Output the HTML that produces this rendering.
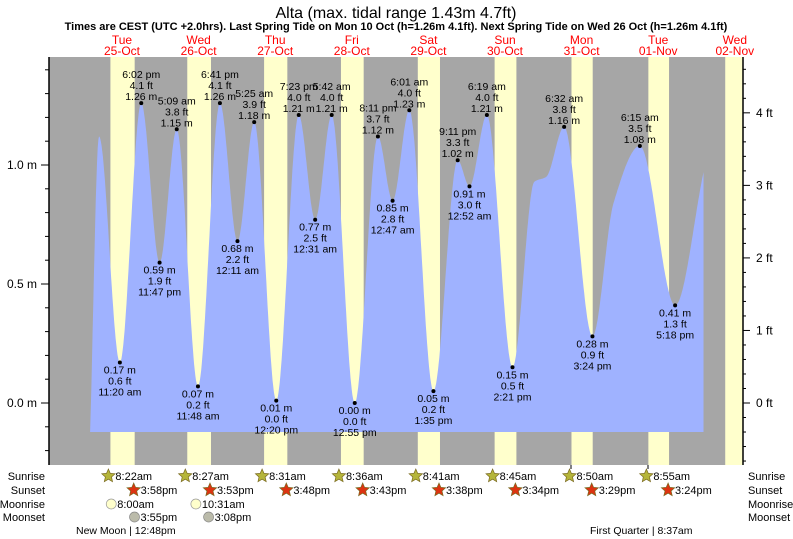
<!DOCTYPE html>
<html><head><meta charset="utf-8"><style>
body{margin:0;background:#fff;}
svg{display:block;font-family:"Liberation Sans",sans-serif;}
</style></head><body>
<svg id="chart" width="793" height="539" viewBox="0 0 793 539" xmlns="http://www.w3.org/2000/svg">
<text x="396" y="18" text-anchor="middle" font-size="16">Alta (max. tidal range 1.43m 4.7ft)</text>
<text x="396" y="30" text-anchor="middle" font-size="11" font-weight="bold">Times are CEST (UTC +2.0hrs). Last Spring Tide on Mon 10 Oct (h=1.26m 4.1ft). Next Spring Tide on Wed 26 Oct (h=1.26m 4.1ft)</text>
<g id="days"></g>
<rect x="49" y="57" width="694" height="408" fill="#a6a6a6"/>
<g id="bands"></g>
<path id="tide" fill="#9fb2ff"/>
<g id="marks"></g>
<line x1="49" y1="57" x2="49" y2="465" stroke="#000" stroke-width="1.5"/>
<line x1="743" y1="57" x2="743" y2="465" stroke="#000" stroke-width="1.5"/>
<g id="axes"></g>
<g id="sun" font-size="11"></g>
</svg>
<script>
// ---- data ----
const tideHours = [2.0, 4.8, 11.33, 18.03, 23.78, 29.15, 35.8, 42.68, 48.18, 53.42, 60.33, 67.38, 72.52, 77.7, 84.92, 92.18, 96.78, 102.02, 109.58, 117.18, 120.87, 126.32, 134.35, 141.2, 144.9, 150.53, 159.4, 166.0, 174.25, 185.3, 194.2];
const tideHeights = [-0.13, 1.12, 0.17, 1.26, 0.59, 1.15, 0.07, 1.26, 0.68, 1.18, 0.01, 1.21, 0.77, 1.21, 0.00, 1.12, 0.85, 1.23, 0.05, 1.02, 0.91, 1.21, 0.15, 0.93, 0.95, 1.16, 0.28, 0.84, 1.08, 0.41, 0.97];
const extremeIdx = [2,3,4,5,6,7,8,9,10,11,12,13,14,15,16,17,18,19,20,21,22,25,26,28,29];
const extremeTimes = ["11:20 am","6:02 pm","11:47 pm","5:09 am","11:48 am","6:41 pm","12:11 am","5:25 am","12:20 pm","7:23 pm","12:31 am","5:42 am","12:55 pm","8:11 pm","12:47 am","6:01 am","1:35 pm","9:11 pm","12:52 am","6:19 am","2:21 pm","6:32 am","3:24 pm","6:15 am","5:18 pm"];
const extremeFt = ["0.6","4.1","1.9","3.8","0.2","4.1","2.2","3.9","0.0","4.0","2.5","4.0","0.0","3.7","2.8","4.0","0.2","3.3","3.0","4.0","0.5","3.8","0.9","3.5","1.3"];
const dayNames = ["Tue","Wed","Thu","Fri","Sat","Sun","Mon","Tue","Wed"];
const dayDates = ["25-Oct","26-Oct","27-Oct","28-Oct","29-Oct","30-Oct","31-Oct","01-Nov","02-Nov"];
const sunriseH = [8.37, 8.45, 8.52, 8.6, 8.68, 8.75, 8.83, 8.92, 9.0];
const sunsetH = [15.97, 15.88, 15.8, 15.72, 15.63, 15.57, 15.48, 15.4, 15.32];
const sunriseLbl = ["8:22am","8:27am","8:31am","8:36am","8:41am","8:45am","8:50am","8:55am"];
const sunsetLbl = ["3:58pm","3:53pm","3:48pm","3:43pm","3:38pm","3:34pm","3:29pm","3:24pm"];
const moonriseH = [8.0, 34.52];
const moonriseLbl = ["8:00am","10:31am"];
const moonsetH = [15.92, 39.13];
const moonsetLbl = ["3:55pm","3:08pm"];
const mTicks = [-0.2,-0.1,0,0.1,0.2,0.3,0.4,0.5,0.6,0.7,0.8,0.9,1.0,1.1,1.2,1.3,1.4];
const mLabels = [[0,"0.0 m"],[0.5,"0.5 m"],[1.0,"1.0 m"]];
const ftLabels = [0,1,2,3,4];

// ---- scales ----
const X0=83.7, PXH=76.6/24;
const xs = h => X0 + h*PXH;
const ys = m => 403 - m*238;
const NS="http://www.w3.org/2000/svg";
function mk(tag, parent, attrs, txt){const e=document.createElementNS(NS,tag);for(const k in attrs)e.setAttribute(k,attrs[k]);if(txt!==undefined)e.textContent=txt;parent.appendChild(e);return e;}

// days + bands
const days=document.getElementById('days'), bands=document.getElementById('bands');
for(let d=0;d<dayNames.length;d++){
  const cx=xs(d*24+12);
  const t1=mk('text',days,{x:cx,y:44,'text-anchor':'middle','font-size':12,fill:'#f00'},dayNames[d]);
  
  
  const t2=mk('text',days,{x:cx,y:55,'text-anchor':'middle','font-size':12,fill:'#f00'},dayDates[d]);
  
  
  const x1=xs(d*24+sunriseH[d]), x2=Math.min(743,xs(d*24+sunsetH[d]));
  if(x1<743){
    const r=mk('rect',bands,{x:x1,y:57,width:x2-x1,height:408,fill:'#ffffcc'});
    
    
  }
}
// right white/yellow strip beyond axis handled by band clipping

// monotone cubic interpolation
const n=tideHours.length, sl=[], dl=[];
for(let i=0;i<n-1;i++){dl.push((tideHeights[i+1]-tideHeights[i])/(tideHours[i+1]-tideHours[i]));}
for(let i=0;i<n;i++){
  if(i===0)sl.push(dl[0]);else if(i===n-1)sl.push(dl[n-2]);
  else if(dl[i-1]*dl[i]<=0)sl.push(0);
  else{const w1=2*(tideHours[i+1]-tideHours[i])+(tideHours[i]-tideHours[i-1]),w2=(tideHours[i+1]-tideHours[i])+2*(tideHours[i]-tideHours[i-1]);sl.push((w1+w2)/(w1/dl[i-1]+w2/dl[i]));}
}
function interp(h){
  let i=0;while(i<n-2&&h>tideHours[i+1])i++;
  const hh=tideHours[i+1]-tideHours[i],t=(h-tideHours[i])/hh;
  const h00=2*t*t*t-3*t*t+1,h10=t*t*t-2*t*t+t,h01=-2*t*t*t+3*t*t,h11=t*t*t-t*t;
  return h00*tideHeights[i]+h10*hh*sl[i]+h01*tideHeights[i+1]+h11*hh*sl[i+1];
}
let d=`M${xs(tideHours[0])},432`;
for(let h=tideHours[0];h<=tideHours[n-1]+0.001;h+=0.2){d+=` L${xs(h).toFixed(1)},${Math.min(432,ys(interp(h))).toFixed(1)}`;}
d+=` L${xs(tideHours[n-1])},${Math.min(432,ys(tideHeights[n-1]))} L${xs(tideHours[n-1])},432 Z`;
document.getElementById('tide').setAttribute('d',d);

// marks
const marks=document.getElementById('marks');
extremeIdx.forEach((idx,k)=>{
  const x=xs(tideHours[idx]), y=ys(tideHeights[idx]);
  const high = k===0?false:(tideHeights[idx]>tideHeights[idx-1]||tideHeights[idx]>tideHeights[idx+1]);
  const isHigh = tideHeights[idx]>interp(tideHours[idx]-1.5);
  const c=mk('circle',marks,{cx:x,cy:y,r:2,fill:'#000'});
  
  
  const g=mk('g',marks,{'font-size':10.5,'text-anchor':'middle',fill:'#000'});
  
  
  const m=tideHeights[idx].toFixed(2)+" m", ft=extremeFt[k]+" ft";
  if(isHigh){
    mk('text',g,{x:x,y:y-25},extremeTimes[k]);
    mk('text',g,{x:x,y:y-14},ft);
    mk('text',g,{x:x,y:y-3},m);
  }else{
    mk('text',g,{x:x,y:y+11},m);
    mk('text',g,{x:x,y:y+22},ft);
    mk('text',g,{x:x,y:y+33},extremeTimes[k]);
  }
});

// axes
const axes=document.getElementById('axes');
mTicks.forEach(v=>{const y=ys(v);const major=mLabels.some(l=>Math.abs(l[0]-v)<1e-6);
  const t=mk('line',axes,{x1:major?41:45,y1:y,x2:49,y2:y,stroke:'#000'});
  
  });
mLabels.forEach(l=>{const t=mk('text',axes,{x:37,y:ys(l[0])+4,'text-anchor':'end','font-size':12},l[1]);
  
  });
for(let f=-1.6;f<=4.81;f+=0.2){const y=ys(f*0.3048);if(y<58||y>464)continue;const major=Math.abs(f-Math.round(f))<1e-6;
  const t=mk('line',axes,{x1:743,y1:y,x2:major?750:746,y2:y,stroke:'#000'});
  
  }
ftLabels.forEach(f=>{const t=mk('text',axes,{x:756,y:ys(f*0.3048)+4,'font-size':12},f+" ft");
  
  });
[571,648].forEach(x=>{const t=mk('line',axes,{x1:x,y1:465,x2:x,y2:469,stroke:'#000'});
  
  });

// sun & moon rows
const sun=document.getElementById('sun');
const rows=[["Sunrise",480],["Sunset",494],["Moonrise",508],["Moonset",521]];
rows.forEach(r=>{
  const a=mk('text',sun,{x:45,y:r[1],'text-anchor':'end'},r[0]);
  
  
  const b=mk('text',sun,{x:748,y:r[1]},r[0]);
  
  
});
function star(cx,cy,fill){let p="";for(let i=0;i<10;i++){const a=-Math.PI/2+i*Math.PI/5,r=i%2?3.2:7;p+=(cx+r*Math.cos(a)).toFixed(1)+","+(cy+r*Math.sin(a)).toFixed(1)+" ";}return p;}
for(let dd=0;dd<sunriseLbl.length;dd++){
  const x1=xs(dd*24+sunriseH[dd]);
  const s1=mk('polygon',sun,{points:star(x1-2,476,'') ,fill:'#b5b53a',stroke:'#7a6a20','stroke-width':0.7});
  
  
  const t1=mk('text',sun,{x:x1+5,y:480},sunriseLbl[dd]);
  
  
  const x2=xs(dd*24+sunsetH[dd]);
  const s2=mk('polygon',sun,{points:star(x2-1,490,''),fill:'#dd3311',stroke:'#7a6a20','stroke-width':0.7});
  
  
  const t2=mk('text',sun,{x:x2+6,y:494},sunsetLbl[dd]);
  
  
}
moonriseH.forEach((h,i)=>{const x=xs(h);
  const c=mk('circle',sun,{cx:x+2,cy:504,r:5,fill:'#ffffcc',stroke:'#999','stroke-width':0.7});
  
  
  const t=mk('text',sun,{x:x+8,y:508},moonriseLbl[i]);
  
  });
moonsetH.forEach((h,i)=>{const x=xs(h);
  const c=mk('circle',sun,{cx:x,cy:517,r:5,fill:'#bbbbaa',stroke:'#888','stroke-width':0.7});
  
  
  const t=mk('text',sun,{x:x+6,y:521},moonsetLbl[i]);
  
  });
const nm=mk('text',sun,{x:76,y:534,'font-size':10.5},"New Moon | 12:48pm");


const fq=mk('text',sun,{x:590,y:534,'font-size':10.5},"First Quarter | 8:37am");


</script>
</body></html>
